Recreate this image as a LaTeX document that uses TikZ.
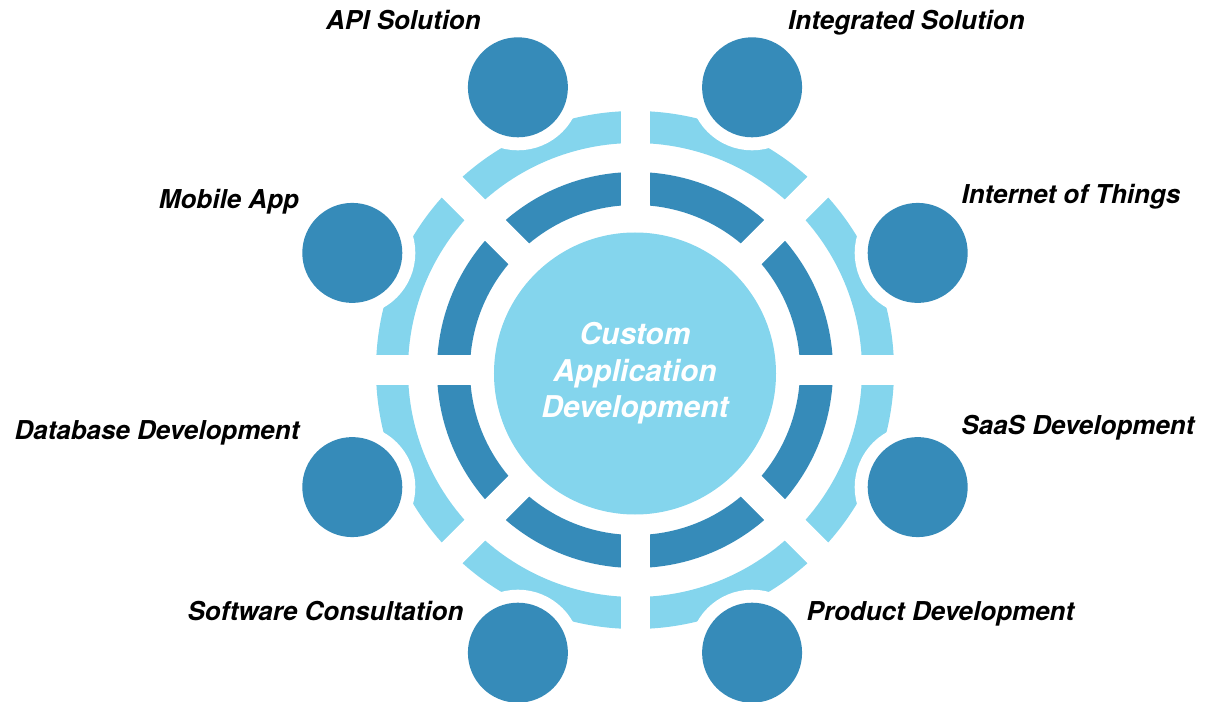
\documentclass[tikz,border=0pt]{standalone}
\usepackage{fontspec}
\setmainfont{TeX Gyre Heros}
\usetikzlibrary{positioning}
\definecolor{darkblue}{RGB}{54,139,185}
\definecolor{lightblue}{RGB}{132,213,237}

\begin{document}
\begin{tikzpicture}[x=1pt,y=1pt,
    svc/.style={circle,fill=darkblue,minimum size=100pt,inner sep=0pt,
                preaction={draw=white,line width=26pt}},
    hub/.style={circle,fill=lightblue,minimum size=282pt,inner sep=0pt,
                text=white,align=center,
                font=\fontsize{30}{36.5}\selectfont\bfseries\itshape},
    lbl/.style={anchor=base,font=\fontsize{26}{30}\selectfont\bfseries\itshape}]
    \useasboundingbox (-635,-331) rectangle (577,370);
    \fill[lightblue,even odd rule] (0,0) circle (259pt) (0,0) circle (227pt);
    \fill[darkblue,even odd rule] (0,0) circle (198pt) (0,0) circle (165pt);
    \foreach \a in {0,45,90,135}
        \draw[white,line width=29pt] (\a:270) -- (\a+180:270);
    \node[hub] (core) at (0,-3.5) {Custom\\Application\\Development};
    \node[svc] (iot)  at (22.5:306)  {};
    \node[svc] (intg) at (67.5:306)  {};
    \node[svc] (api)  at (112.5:306) {};
    \node[svc] (mob)  at (157.5:306) {};
    \node[svc] (db)   at (202.5:306) {};
    \node[svc] (soft) at (247.5:306) {};
    \node[svc] (prod) at (292.5:306) {};
    \node[svc] (saas) at (337.5:306) {};
    \node[lbl] (l-api)  at (-231.5,340.5) {API Solution};
    \node[lbl] (l-intg) at (271.5,340.5)  {Integrated Solution};
    \node[lbl] (l-mob)  at (-406,161)     {Mobile App};
    \node[lbl] (l-iot)  at (436,166)      {Internet of Things};
    \node[lbl] (l-db)   at (-478,-69)     {Database Development};
    \node[lbl] (l-saas) at (443,-64)      {SaaS Development};
    \node[lbl] (l-soft) at (-309.5,-250)  {Software Consultation};
    \node[lbl] (l-prod) at (305.5,-250)   {Product Development};
\end{tikzpicture}
\end{document}
